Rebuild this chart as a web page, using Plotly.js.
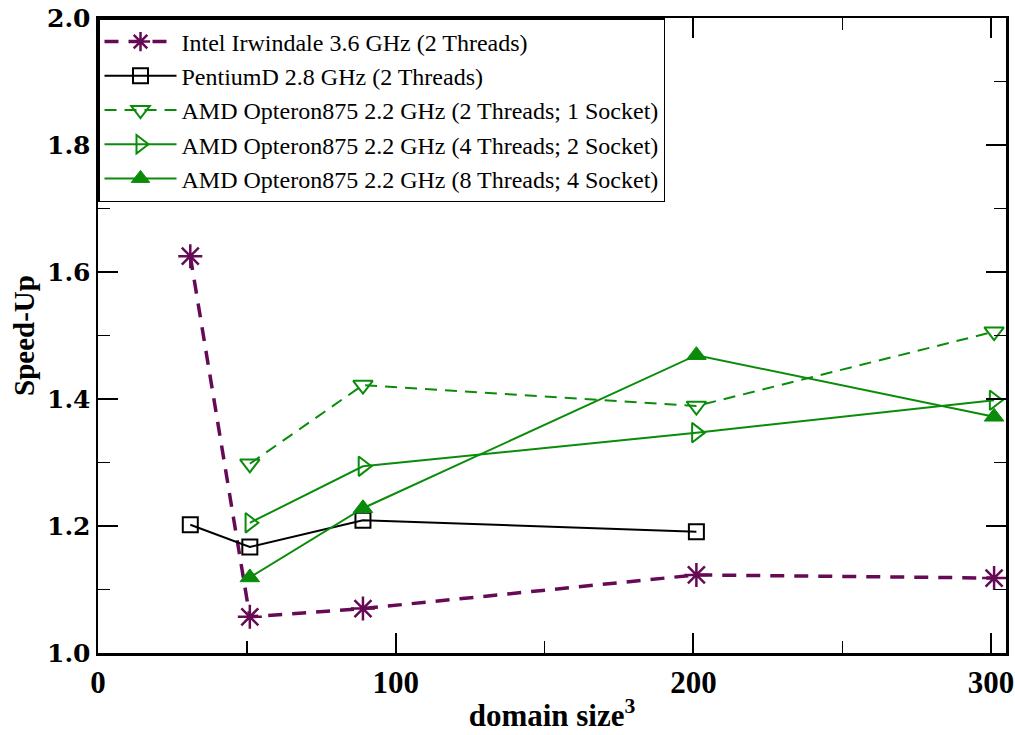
<!DOCTYPE html>
<html>
<head>
<meta charset="utf-8">
<script src="https://cdn.plot.ly/plotly-3.0.1.min.js"></script>
<style>html,body{margin:0;padding:0;background:#fff}#chart{width:1015px;height:735px}</style>
</head>
<body>
<div id="chart"></div>
<script>
// Series names
const seriesNames = [
  "Intel Irwindale 3.6 GHz (2 Threads)",
  "PentiumD 2.8 GHz (2 Threads)",
  "AMD Opteron875 2.2 GHz (2 Threads; 1 Socket)",
  "AMD Opteron875 2.2 GHz (4 Threads; 2 Socket)",
  "AMD Opteron875 2.2 GHz (8 Threads; 4 Socket)"
];
// domain sizes
const intelX = [31, 51, 89, 201, 301];
const intelY = [1.625, 1.057, 1.070, 1.123, 1.118];
const pentX = [31, 51, 89, 201];
const pentY = [1.202, 1.167, 1.209, 1.191];
const amd2X = [51, 89, 201, 301];
const amd2Y = [1.298, 1.422, 1.389, 1.506];
const amd4X = [51, 89, 201, 301];
const amd4Y = [1.205, 1.294, 1.347, 1.398];
const amd8X = [51, 89, 201, 301];
const amd8Y = [1.119, 1.228, 1.469, 1.372];
const xTicks = [0, 100, 200, 300];
const yTicks = [1.0, 1.2, 1.4, 1.6, 1.8, 2.0];
const yTickText = ["1.0", "1.2", "1.4", "1.6", "1.8", "2.0"];

const purple = "#660a55";
const green = "#0a8c0a";
const serif = "Liberation Serif";

const traces = [
  {x: intelX, y: intelY, name: seriesNames[0], mode: "lines+markers",
   line: {color: purple, width: 3.5, dash: "14px,10px"},
   marker: {symbol: "asterisk-open", size: 20, color: purple, line: {color: purple, width: 2.5}}},
  {x: pentX, y: pentY, name: seriesNames[1], mode: "lines+markers",
   line: {color: "#000", width: 2},
   marker: {symbol: "square-open", size: 15, color: "#000", line: {color: "#000", width: 2}}},
  {x: amd2X, y: amd2Y, name: seriesNames[2], mode: "lines+markers",
   line: {color: green, width: 2, dash: "12px,8px"},
   marker: {symbol: "triangle-down-open", size: 17, color: green, line: {color: green, width: 2}}},
  {x: amd4X, y: amd4Y, name: seriesNames[3], mode: "lines+markers",
   line: {color: green, width: 2},
   marker: {symbol: "triangle-right-open", size: 17, color: green, line: {color: green, width: 2}}},
  {x: amd8X, y: amd8Y, name: seriesNames[4], mode: "lines+markers",
   line: {color: green, width: 2},
   marker: {symbol: "triangle-up", size: 17, color: green, line: {color: green, width: 1}}}
];

const layout = {
  width: 1015, height: 735,
  margin: {l: 98, r: 9, t: 18, b: 82, pad: 0},
  paper_bgcolor: "#fff", plot_bgcolor: "#fff",
  font: {family: serif, color: "#000"},
  showlegend: true,
  legend: {x: 0, y: 1, xanchor: "left", yanchor: "top", bgcolor: "#fff",
           bordercolor: "#000", borderwidth: 1.5, itemwidth: 72,
           font: {family: serif, size: 24, color: "#000"},
           tracegroupgap: 0},
  xaxis: {range: [0, 305], tickvals: xTicks, ticktext: xTicks.map(String),
          ticks: "inside", ticklen: 20, tickwidth: 2, tickcolor: "#000",
          minor: {dtick: 50, tick0: 0, ticks: "inside", ticklen: 12, tickwidth: 1.5, tickcolor: "#000"},
          showline: true, linecolor: "#000", linewidth: 2.5, mirror: "allticks",
          showgrid: false, zeroline: false,
          tickfont: {family: serif, size: 31, color: "#000", weight: "bold"},
          title: {text: "domain size<sup>3</sup>", font: {family: serif, size: 31, weight: "bold", color: "#000"}, standoff: 6}},
  yaxis: {range: [1.0, 2.0], tickvals: yTicks, ticktext: yTickText,
          ticks: "inside", ticklen: 20, tickwidth: 2, tickcolor: "#000",
          minor: {dtick: 0.1, tick0: 1.0, ticks: "inside", ticklen: 12, tickwidth: 1.5, tickcolor: "#000"},
          showline: true, linecolor: "#000", linewidth: 2.5, mirror: "allticks",
          showgrid: false, zeroline: false,
          tickfont: {family: "DejaVu Serif", size: 25, color: "#000", weight: "bold"},
          title: {text: "Speed-Up", font: {family: serif, size: 29, weight: "bold", color: "#000"}, standoff: 4}}
};

Plotly.newPlot("chart", traces, layout, {displayModeBar: false, staticPlot: true});
</script>
</body>
</html>
